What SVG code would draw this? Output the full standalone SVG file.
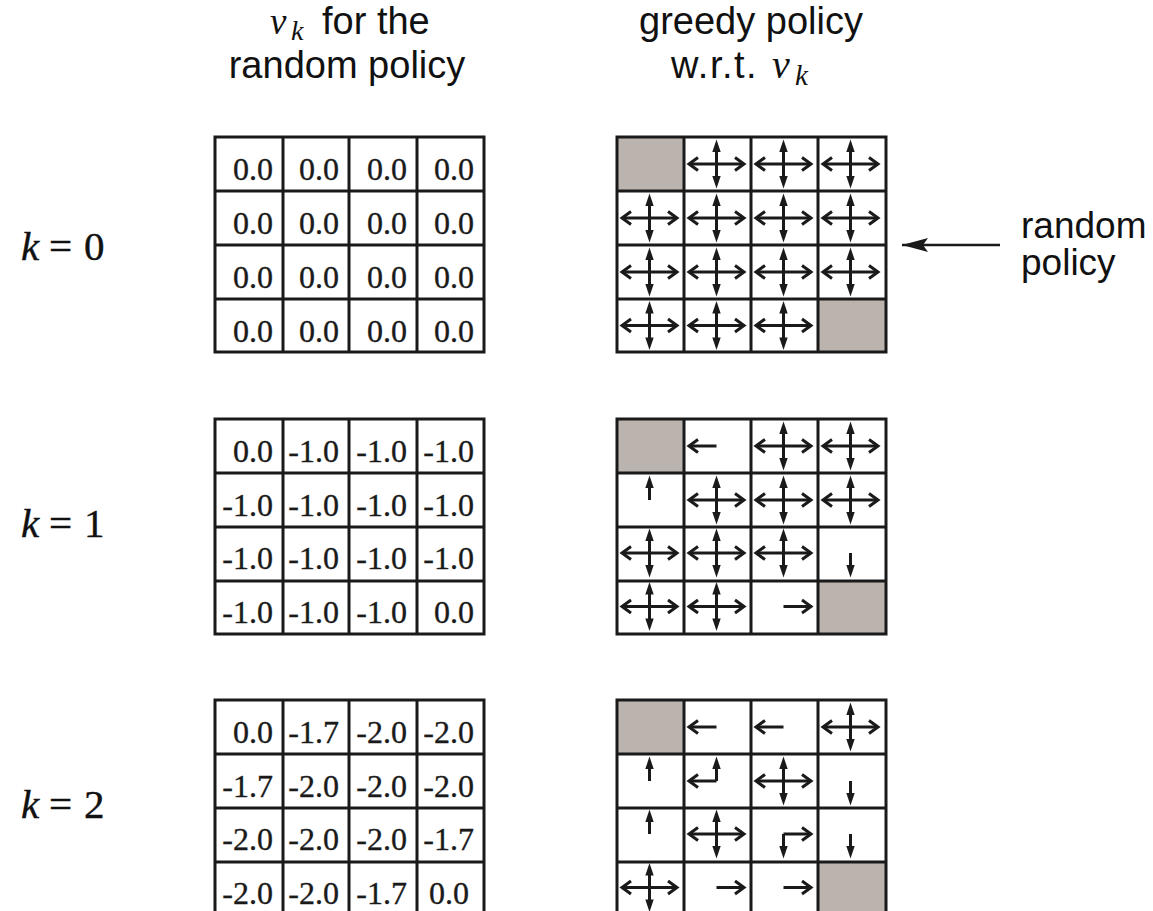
<svg xmlns="http://www.w3.org/2000/svg" width="1153" height="911" viewBox="0 0 1153 911">
  <style>
    .bg { fill: #ffffff; }
    .grid { fill: none; stroke: #1a1a1a; stroke-width: 3; }
    .term { fill: #bab3ae; stroke: none; }
    .val { font-family: "Liberation Serif", "Times New Roman", serif; font-size: 32px; fill: #1a1a1a; stroke: #1a1a1a; stroke-width: 0.35; text-anchor: end; }
    .head { font-family: "Liberation Sans", Arial, sans-serif; font-size: 38px; fill: #111111; }
    .math { font-family: "Liberation Serif", "Times New Roman", serif; font-style: italic; fill: #111111; }
    .klab { font-family: "Liberation Serif", "Times New Roman", serif; font-size: 41px; fill: #111111; stroke: #111111; stroke-width: 0.4; }
    .note { font-family: "Liberation Sans", Arial, sans-serif; font-size: 37px; fill: #111111; }
    .shaft { fill: none; stroke: #1a1a1a; stroke-width: 3; stroke-linecap: butt; stroke-linejoin: miter; }
    .tip { fill: #1a1a1a; stroke: none; }
    .conn { fill: none; stroke: #1a1a1a; stroke-width: 2.4; }
  </style>
  <defs>
    <!-- action arrows, drawn about the cell centre -->
    <g id="aL"><line class="shaft" x1="0" y1="0" x2="-27" y2="0"/><polyline class="shaft" points="-18.5,-6.5 -27.5,0 -18.5,6.5"/></g>
    <g id="aR"><line class="shaft" x1="0" y1="0" x2="27" y2="0"/><polyline class="shaft" points="18.5,-6.5 27.5,0 18.5,6.5"/></g>
    <g id="aU"><line class="shaft" x1="0" y1="0" x2="0" y2="-14"/><polygon class="tip" points="0,-24.5 -4.2,-12 4.2,-12"/></g>
    <g id="aD"><line class="shaft" x1="0" y1="0" x2="0" y2="14"/><polygon class="tip" points="0,24.5 -4.2,12 4.2,12"/></g>
    <g id="aX"><use href="#aL"/><use href="#aR"/><use href="#aU"/><use href="#aD"/></g>
    <!-- 4x4 grid lines; origin at the top-left corner -->
    <g id="gridL">
      <rect class="grid" x="0" y="0" width="269" height="215"/>
      <path class="grid" d="M68,0V215M134,0V215M202,0V215M0,54H269M0,108H269M0,162H269"/>
    </g>
    <g id="gridR">
      <rect class="grid" x="0" y="0" width="269" height="215"/>
      <path class="grid" d="M67,0V215M134,0V215M201,0V215M0,54H269M0,108H269M0,162H269"/>
    </g>
    <marker id="head" viewBox="0 0 26 14" refX="26" refY="7" markerWidth="26" markerHeight="14" markerUnits="userSpaceOnUse" orient="auto">
      <path d="M26,7 L0,0 L5,7 L0,14 Z" fill="#1a1a1a"/>
    </marker>
  </defs>

  <rect class="bg" x="0" y="0" width="1153" height="911"/>

  <!-- column headings -->
  <g id="head-values">
    <text class="math" x="270" y="34" font-size="37">v</text>
    <text class="math" x="291" y="40" font-size="28">k</text>
    <text class="head" x="322" y="34">for the</text>
    <text class="head" x="347" y="78" text-anchor="middle">random policy</text>
  </g>
  <g id="head-policy">
    <text class="head" x="751" y="34" text-anchor="middle">greedy policy</text>
    <text class="head" x="671" y="78" letter-spacing="1.5">w.r.t.</text>
    <text class="math" x="772" y="78" font-size="40">v</text>
    <text class="math" x="795" y="85" font-size="29">k</text>
  </g>

  <!-- iteration labels -->
  <g id="label-k0"><text class="klab" y="260"><tspan class="math" x="21">k</tspan><tspan x="49">=</tspan><tspan x="84">0</tspan></text></g>
  <g id="label-k1"><text class="klab" y="537"><tspan class="math" x="21">k</tspan><tspan x="49">=</tspan><tspan x="84">1</tspan></text></g>
  <g id="label-k2"><text class="klab" y="818"><tspan class="math" x="21">k</tspan><tspan x="49">=</tspan><tspan x="84">2</tspan></text></g>

  <!-- value tables -->
  <g id="values-k0">
    <use href="#gridL" x="215" y="137"/>
    <text class="val" x="273" y="180">0.0</text><text class="val" x="339" y="180">0.0</text><text class="val" x="407" y="180">0.0</text><text class="val" x="474" y="180">0.0</text>
    <text class="val" x="273" y="234">0.0</text><text class="val" x="339" y="234">0.0</text><text class="val" x="407" y="234">0.0</text><text class="val" x="474" y="234">0.0</text>
    <text class="val" x="273" y="288">0.0</text><text class="val" x="339" y="288">0.0</text><text class="val" x="407" y="288">0.0</text><text class="val" x="474" y="288">0.0</text>
    <text class="val" x="273" y="342">0.0</text><text class="val" x="339" y="342">0.0</text><text class="val" x="407" y="342">0.0</text><text class="val" x="474" y="342">0.0</text>
  </g>
  <g id="values-k1">
    <use href="#gridL" x="215" y="419"/>
    <text class="val" x="273" y="462">0.0</text><text class="val" x="339" y="462">-1.0</text><text class="val" x="407" y="462">-1.0</text><text class="val" x="474" y="462">-1.0</text>
    <text class="val" x="273" y="516">-1.0</text><text class="val" x="339" y="516">-1.0</text><text class="val" x="407" y="516">-1.0</text><text class="val" x="474" y="516">-1.0</text>
    <text class="val" x="273" y="569">-1.0</text><text class="val" x="339" y="569">-1.0</text><text class="val" x="407" y="569">-1.0</text><text class="val" x="474" y="569">-1.0</text>
    <text class="val" x="273" y="623">-1.0</text><text class="val" x="339" y="623">-1.0</text><text class="val" x="407" y="623">-1.0</text><text class="val" x="474" y="623">0.0</text>
  </g>
  <g id="values-k2">
    <use href="#gridL" x="215" y="700"/>
    <text class="val" x="273" y="743">0.0</text><text class="val" x="339" y="743">-1.7</text><text class="val" x="407" y="743">-2.0</text><text class="val" x="474" y="743">-2.0</text>
    <text class="val" x="273" y="797">-1.7</text><text class="val" x="339" y="797">-2.0</text><text class="val" x="407" y="797">-2.0</text><text class="val" x="474" y="797">-2.0</text>
    <text class="val" x="273" y="850">-2.0</text><text class="val" x="339" y="850">-2.0</text><text class="val" x="407" y="850">-2.0</text><text class="val" x="474" y="850">-1.7</text>
    <text class="val" x="273" y="904">-2.0</text><text class="val" x="339" y="904">-2.0</text><text class="val" x="407" y="904">-1.7</text><text class="val" x="469" y="904">0.0</text>
  </g>

  <!-- greedy policies -->
  <g id="policy-k0">
    <rect class="term" x="617" y="137" width="67" height="54"/>
    <rect class="term" x="818" y="299" width="68" height="53"/>
    <use href="#gridR" x="617" y="137"/>
    <use href="#aX" x="716.5" y="164"/><use href="#aX" x="783.5" y="164"/><use href="#aX" x="850.5" y="164"/>
    <use href="#aX" x="649.5" y="218"/><use href="#aX" x="716.5" y="218"/><use href="#aX" x="783.5" y="218"/><use href="#aX" x="850.5" y="218"/>
    <use href="#aX" x="649.5" y="272"/><use href="#aX" x="716.5" y="272"/><use href="#aX" x="783.5" y="272"/><use href="#aX" x="850.5" y="272"/>
    <use href="#aX" x="649.5" y="325.5"/><use href="#aX" x="716.5" y="325.5"/><use href="#aX" x="783.5" y="325.5"/>
  </g>
  <g id="policy-k1">
    <rect class="term" x="617" y="419" width="67" height="54"/>
    <rect class="term" x="818" y="580" width="68" height="53"/>
    <use href="#gridR" x="617" y="419"/>
    <use href="#aL" x="716.5" y="446"/><use href="#aX" x="783.5" y="446"/><use href="#aX" x="850.5" y="446"/>
    <use href="#aU" x="649.5" y="500"/><use href="#aX" x="716.5" y="500"/><use href="#aX" x="783.5" y="500"/><use href="#aX" x="850.5" y="500"/>
    <use href="#aX" x="649.5" y="553"/><use href="#aX" x="716.5" y="553"/><use href="#aX" x="783.5" y="553"/><use href="#aD" x="850.5" y="553"/>
    <use href="#aX" x="649.5" y="606.5"/><use href="#aX" x="716.5" y="606.5"/><use href="#aR" x="783.5" y="606.5"/>
  </g>
  <g id="policy-k2">
    <rect class="term" x="617" y="700" width="67" height="54"/>
    <rect class="term" x="818" y="861" width="68" height="53"/>
    <use href="#gridR" x="617" y="700"/>
    <use href="#aL" x="716.5" y="727"/><use href="#aL" x="783.5" y="727"/><use href="#aX" x="850.5" y="727"/>
    <use href="#aU" x="649.5" y="781"/><use href="#aL" x="716.5" y="781"/><use href="#aU" x="716.5" y="781"/><use href="#aX" x="783.5" y="781"/><use href="#aD" x="850.5" y="781"/>
    <use href="#aU" x="649.5" y="834"/><use href="#aX" x="716.5" y="834"/><use href="#aR" x="783.5" y="834"/><use href="#aD" x="783.5" y="834"/><use href="#aD" x="850.5" y="834"/>
    <use href="#aX" x="649.5" y="887.5"/><use href="#aR" x="716.5" y="887.5"/><use href="#aR" x="783.5" y="887.5"/>
  </g>

  <!-- annotation -->
  <g id="note-random">
    <text class="note" x="1021" y="238">random</text>
    <text class="note" x="1021" y="275">policy</text>
  </g>
  <g id="connectors">
    <line class="conn" x1="1000" y1="245" x2="902" y2="245" marker-end="url(#head)"/>
  </g>
</svg>
